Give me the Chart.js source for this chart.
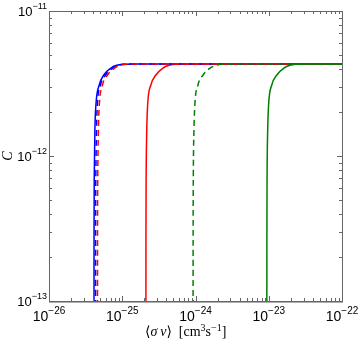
<!DOCTYPE html>
<html><head><meta charset="utf-8">
<script src="https://cdn.jsdelivr.net/npm/chart.js@4/dist/chart.umd.min.js"></script>
<style>html,body{margin:0;padding:0;background:#fff}#wrap{width:360px;height:351px}</style>
</head><body><div id="wrap"><canvas id="c" width="360" height="351"></canvas></div>
<script>
// C values (shared sample levels for every curve)
const yLevels = [1e-14, 2.6e-13, 7.4e-13, 1.5e-12, 2.25e-12, 3.09e-12, 3.62e-12, 4.03e-12, 4.22e-12, 4.29e-12, 4.31e-12, 4.31e-12];
// <sigma v> values for each curve at those levels
const blueSolidX  = [4.11e-26, 4.12e-26, 4.15e-26, 4.23e-26, 4.37e-26, 4.85e-26, 5.6e-26, 6.95e-26, 8.4e-26, 1.02e-25, 1.45e-25, 1e-22];
const blueDashX   = [4.32e-26, 4.33e-26, 4.36e-26, 4.45e-26, 4.57e-26, 5.05e-26, 5.92e-26, 7.39e-26, 8.9e-26, 1.08e-25, 1.52e-25, 1e-22];
const redDashX    = [4.59e-26, 4.6e-26, 4.63e-26, 4.72e-26, 4.86e-26, 5.37e-26, 6.29e-26, 7.85e-26, 9.46e-26, 1.14e-25, 1.62e-25, 1e-22];
const redSolidX   = [2.10e-25, 2.106e-25, 2.12e-25, 2.16e-25, 2.22e-25, 2.46e-25, 2.88e-25, 3.59e-25, 4.33e-25, 5.23e-25, 7.39e-25, 1e-22];
const greenDashX  = [9.25e-25, 9.28e-25, 9.34e-25, 9.52e-25, 9.79e-25, 1.08e-24, 1.27e-24, 1.58e-24, 1.91e-24, 2.30e-24, 3.26e-24, 1e-22];
const greenSolidX = [9.4e-24, 9.43e-24, 9.49e-24, 9.67e-24, 9.95e-24, 1.10e-23, 1.29e-23, 1.61e-23, 1.94e-23, 2.34e-23, 3.31e-23, 1e-22];
const xTickExps = [-26, -25, -24, -23, -22];
const yTickExps = [-13, -12, -11];

function pts(xs){ return xs.map((x,i)=>({x:x, y:yLevels[i]})); }
function ds(xs, color, dashed){
  return {data: pts(xs), borderColor: color, backgroundColor: color, borderWidth: 1.5,
    borderDash: dashed ? [6,4] : [], pointRadius: 0, cubicInterpolationMode: 'monotone', fill: false};
}

const axesPlugin = {
  id: 'axesPlugin',
  afterDraw(chart){
    const ctx = chart.ctx, xs = chart.scales.x, ys = chart.scales.y, a = chart.chartArea;
    ctx.save();
    ctx.strokeStyle = '#666'; ctx.lineWidth = 1;
    ctx.beginPath();
    for (let k = xTickExps[0]; k <= xTickExps[xTickExps.length-1]; k++){
      for (let m = 1; m <= 9; m++){
        if (k === xTickExps[xTickExps.length-1] && m > 1) break;
        const px = Math.round(xs.getPixelForValue(m*Math.pow(10,k))) + 0.5;
        const len = m === 1 ? 5 : 3;
        ctx.moveTo(px, a.bottom); ctx.lineTo(px, a.bottom - len);
        ctx.moveTo(px, a.top); ctx.lineTo(px, a.top + len);
      }
    }
    for (let k = yTickExps[0]; k <= yTickExps[yTickExps.length-1]; k++){
      for (let m = 1; m <= 9; m++){
        if (k === yTickExps[yTickExps.length-1] && m > 1) break;
        const py = Math.round(ys.getPixelForValue(m*Math.pow(10,k))) + 0.5;
        const len = m === 1 ? 5 : 3;
        ctx.moveTo(a.left, py); ctx.lineTo(a.left + len, py);
        ctx.moveTo(a.right, py); ctx.lineTo(a.right - len, py);
      }
    }
    ctx.stroke();
    ctx.strokeStyle = '#666';
    ctx.strokeRect(a.left + 0.5, a.top + 0.5, a.right - a.left, a.bottom - a.top);
    ctx.strokeStyle = 'rgba(120,120,120,0.6)';
    ctx.beginPath(); ctx.moveTo(a.left, a.bottom + 1.5); ctx.lineTo(a.right + 1, a.bottom + 1.5); ctx.stroke();
    ctx.fillStyle = '#000';
    ctx.textBaseline = 'alphabetic';
    ctx.textAlign = 'left';
    const base = '"Liberation Sans", Arial, sans-serif';
    xTickExps.forEach(e => {
      const px = xs.getPixelForValue(Math.pow(10,e));
      ctx.font = '14px ' + base; const w1 = ctx.measureText('10').width;
      const sup = '\u2212' + Math.abs(e);
      ctx.font = '10px ' + base; const w2 = ctx.measureText(sup).width;
      const x0 = px - (w1 + w2)/2;
      ctx.font = '14px ' + base; ctx.fillText('10', x0, a.bottom + 20);
      ctx.font = '10px ' + base; ctx.fillText(sup, x0 + w1, a.bottom + 13);
    });
    yTickExps.forEach(e => {
      const py = ys.getPixelForValue(Math.pow(10,e));
      const sup = '\u2212' + Math.abs(e);
      ctx.font = '9px ' + base; const w2 = ctx.measureText(sup).width;
      ctx.font = '13px ' + base; const w1 = ctx.measureText('10').width;
      const xr = a.left - 2;
      ctx.fillText('10', xr - w2 - w1, py + 4.5);
      ctx.font = '9px ' + base; ctx.fillText(sup, xr - w2, py - 2.5);
    });
    const serif = '"Liberation Serif", "DejaVu Serif", serif';
    const parts = [
      ['\u27E8', '14px ' + serif, 0], ['\u03C3', 'italic 14px ' + serif, 0], ['\u2009v', 'italic 14px ' + serif, 0],
      ['\u27E9', '14px ' + serif, 0], ['  [cm', '14px ' + serif, 0], ['3', '10px ' + serif, -5],
      ['s', '14px ' + serif, 0], ['\u22121', '10px ' + serif, -5], [']', '14px ' + serif, 0]
    ];
    let tot = 0;
    parts.forEach(p => { ctx.font = p[1]; tot += ctx.measureText(p[0]).width; });
    let cx = 145;
    parts.forEach(p => { ctx.font = p[1]; ctx.fillText(p[0], cx, a.bottom + 35 + p[2]); cx += ctx.measureText(p[0]).width; });
    ctx.save();
    ctx.translate(12, (a.top + a.bottom)/2);
    ctx.rotate(-Math.PI/2);
    ctx.textAlign = 'center';
    ctx.font = 'italic 14px ' + serif;
    ctx.fillText('C', 0, 0);
    ctx.restore();
    ctx.restore();
  }
};

new Chart(document.getElementById('c'), {
  type: 'line',
  data: { datasets: [
    ds(greenSolidX, '#008000', false),
    ds(greenDashX, '#008000', true),
    ds(redDashX, '#ff0000', true),
    ds(blueDashX, '#0000ff', true),
    ds(redSolidX, '#ff0000', false),
    ds(blueSolidX, '#0000ff', false)
  ]},
  options: {
    responsive: false, animation: false, devicePixelRatio: 1,
    layout: { padding: { left: 49, right: 18, top: 11, bottom: 50 } },
    plugins: { legend: { display: false }, tooltip: { enabled: false } },
    scales: {
      x: { type: 'logarithmic', min: 1e-26, max: 1e-22, display: false },
      y: { type: 'logarithmic', min: 1e-13, max: 1e-11, display: false }
    }
  },
  plugins: [axesPlugin]
});
</script>
</body></html>
